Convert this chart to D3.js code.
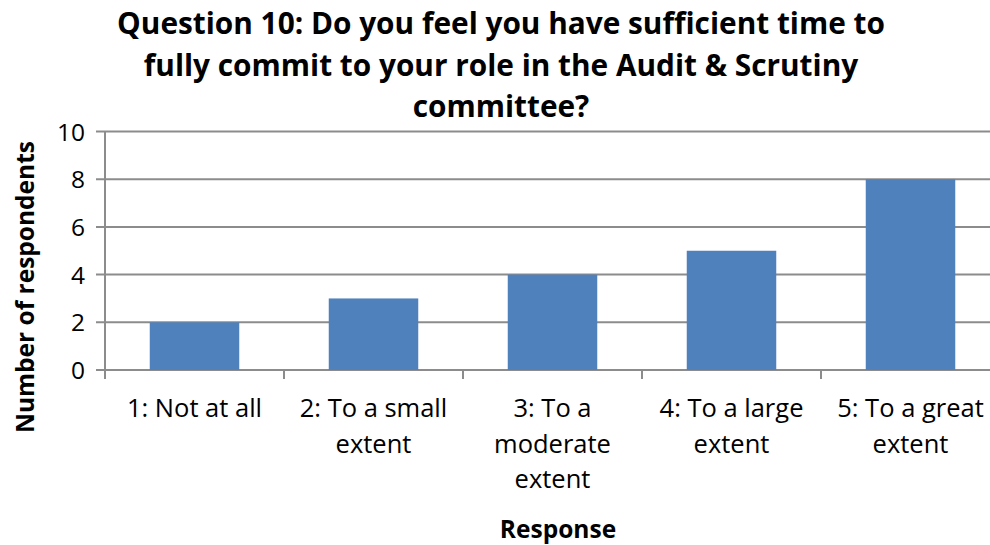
<!DOCTYPE html>
<html>
<head>
<meta charset="utf-8">
<script src="https://cdn.jsdelivr.net/npm/d3@7"></script>
<style>
  html, body { margin: 0; padding: 0; background: #fff; overflow: hidden; }
  svg { display: block; }
  text { font-family: "Open Sans", sans-serif; fill: #000; }
</style>
</head>
<body>
<div id="chart"></div>
<script>
// Survey responses for Question 10
const categories = [
  "1: Not at all",
  "2: To a small\nextent",
  "3: To a\nmoderate\nextent",
  "4: To a large\nextent",
  "5: To a great\nextent"
];
const respondents = [2, 3, 4, 5, 8];
const yTicks = [0, 2, 4, 6, 8, 10];
const titleLines = [
  "Question 10: Do you feel you have sufficient time to",
  "fully commit to your role in the Audit & Scrutiny",
  "committee?"
];
const xTitle = "Response";
const yTitle = "Number of respondents";

const width = 1010, height = 545;
const margin = { top: 131.5, right: 10, bottom: 175, left: 105 };

const svg = d3.select("#chart").append("svg")
  .attr("width", width).attr("height", height);

const x = d3.scaleBand()
  .domain(categories)
  .range([margin.left, width - margin.right])
  .paddingInner(0.5)
  .paddingOuter(0.25);

const y = d3.scaleLinear()
  .domain([0, 10])
  .range([height - margin.bottom, margin.top]);

const gridColor = "#8c8c8c";

// horizontal gridlines
svg.append("g").selectAll("line")
  .data(yTicks)
  .join("line")
  .attr("x1", margin.left - 9)
  .attr("x2", width - margin.right)
  .attr("y1", d => y(d))
  .attr("y2", d => y(d))
  .attr("stroke", gridColor)
  .attr("stroke-width", 2);

// bars
svg.append("g").selectAll("rect")
  .data(respondents)
  .join("rect")
  .attr("x", (d, i) => x(categories[i]))
  .attr("width", x.bandwidth())
  .attr("y", d => y(d))
  .attr("height", d => y(0) - y(d))
  .attr("fill", "#4f81bd");

// y axis
const yAxis = svg.append("g")
  .attr("transform", `translate(${margin.left},0)`)
  .call(d3.axisLeft(y).tickValues(yTicks).tickSize(9).tickPadding(11));
yAxis.select(".domain").remove();
yAxis.selectAll(".tick line").remove();
yAxis.selectAll("text")
  .style("font-size", "24.5px")
  .attr("dy", "0.35em");
svg.append("line")
  .attr("x1", margin.left).attr("x2", margin.left)
  .attr("y1", y(10)).attr("y2", y(0) + 9)
  .attr("stroke", gridColor).attr("stroke-width", 2);

// x axis
const xAxis = svg.append("g")
  .attr("transform", `translate(0,${y(0)})`)
  .call(d3.axisBottom(x).tickSize(0).tickFormat(""));
xAxis.select(".domain").remove();
const step = x.step();
svg.append("g").selectAll("line")
  .data(d3.range(categories.length + 1))
  .join("line")
  .attr("x1", i => margin.left + i * step)
  .attr("x2", i => margin.left + i * step)
  .attr("y1", y(0))
  .attr("y2", y(0) + 9)
  .attr("stroke", gridColor)
  .attr("stroke-width", 2);

// category labels, one tspan per line
svg.append("g").selectAll("text")
  .data(categories)
  .join("text")
  .attr("text-anchor", "middle")
  .style("font-size", "25.5px")
  .each(function(d) {
    const t = d3.select(this);
    d.split("\n").forEach((line, k) => {
      t.append("tspan")
        .attr("x", x(d) + x.bandwidth() / 2)
        .attr("y", 417 + k * 35.5)
        .text(line);
    });
  });

// chart title
svg.append("text")
  .attr("text-anchor", "middle")
  .style("font-size", "29.8px")
  .style("font-weight", "bold")
  .selectAll("tspan")
  .data(titleLines)
  .join("tspan")
  .attr("x", 501)
  .attr("y", (d, i) => 34 + i * 41.5)
  .text(d => d);

// axis titles
svg.append("text")
  .attr("x", 558).attr("y", 538)
  .attr("text-anchor", "middle")
  .style("font-size", "24.5px")
  .style("font-weight", "bold")
  .text(xTitle);

svg.append("text")
  .attr("transform", `translate(34,${287}) rotate(-90)`)
  .attr("text-anchor", "middle")
  .style("font-size", "24.5px")
  .style("font-weight", "bold")
  .text(yTitle);
</script>
</body>
</html>
